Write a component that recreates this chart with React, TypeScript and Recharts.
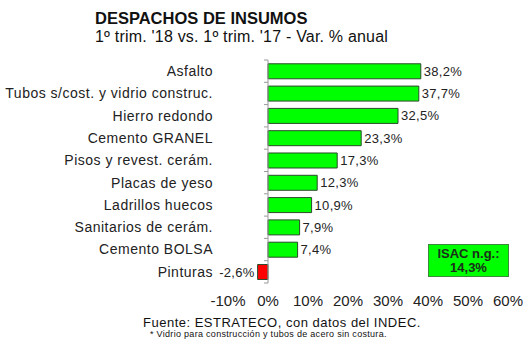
import React from "react";
import { BarChart, Bar, XAxis, YAxis, Cell, LabelList, ReferenceLine } from "recharts";

const categories = [
  "Asfalto",
  "Tubos s/cost. y vidrio construc.",
  "Hierro redondo",
  "Cemento GRANEL",
  "Pisos y revest. cerám.",
  "Placas de yeso",
  "Ladrillos huecos",
  "Sanitarios de cerám.",
  "Cemento BOLSA",
  "Pinturas",
];
const values = [38.2, 37.7, 32.5, 23.3, 17.3, 12.3, 10.9, 7.9, 7.4, -2.6];
const xTicks = [-10, 0, 10, 20, 30, 40, 50, 60];
const isacLabel = "ISAC n.g.:";
const isacValue = "14,3%";

const data = categories.map((name, i) => ({ name, value: values[i] }));

const FONT = "'Liberation Sans', Arial, sans-serif";
const W = 530;
const H = 354;
const M = { top: 60, right: 22, bottom: 41, left: 0 };
const Y_W = 228;
const PLOT_H = H - M.top - M.bottom - 30;
const BAND = PLOT_H / categories.length;

const fmt = (v: number) => v.toFixed(1).replace(".", ",") + "%";

const CatTick = (props: any) => {
  const { y, payload, index } = props;
  return (
    <g>
      <text x={213} y={y} dy="0.35em" textAnchor="end" fontSize={14} letterSpacing={0.5} fontFamily={FONT} fill="#222">
        {payload.value}
      </text>
      <line x1={264} x2={268} y1={y - BAND / 2} y2={y - BAND / 2} stroke="#999" />
      {index === categories.length - 1 ? (
        <line x1={264} x2={268} y1={y + BAND / 2} y2={y + BAND / 2} stroke="#999" />
      ) : null}
    </g>
  );
};

const ValueLabel = (props: any) => {
  const { x, y, width, height, value } = props;
  const left = Math.min(x, x + width);
  const right = Math.max(x, x + width);
  const neg = value < 0;
  return (
    <text
      x={neg ? left - 3 : right + 3}
      y={y + height / 2}
      dy="0.35em"
      textAnchor={neg ? "end" : "start"}
      fontSize={13}
      letterSpacing={0.3}
      fontFamily={FONT}
      fill="#222"
    >
      {fmt(value)}
    </text>
  );
};

export default function App() {
  return (
    <div style={{ position: "absolute", left: 0, top: 0, width: W, height: H, background: "#fff", fontFamily: FONT }}>
      <div style={{ position: "absolute", left: 95, top: 9, fontSize: 16.5, fontWeight: "bold", color: "#111", whiteSpace: "nowrap" }}>
        DESPACHOS DE INSUMOS
      </div>
      <div style={{ position: "absolute", left: 95, top: 28, fontSize: 16, letterSpacing: 0.2, color: "#111", whiteSpace: "nowrap" }}>
        1º trim. '18 vs. 1º trim. '17 - Var. % anual
      </div>
      <BarChart
        width={W}
        height={H}
        data={data}
        layout="vertical"
        margin={M}
        barCategoryGap="17%"
      >
        <XAxis
          type="number"
          domain={[-10, 60]}
          ticks={xTicks}
          axisLine={false}
          tickLine={false}
          tickSize={0}
          tickMargin={12}
          height={30}
          tickFormatter={(v: number) => v + "%"}
          tick={{ fontSize: 15, fontFamily: FONT, fill: "#222" }}
          interval={0}
        />
        <YAxis
          type="category"
          dataKey="name"
          width={Y_W}
          axisLine={false}
          tickLine={false}
          tick={<CatTick />}
          interval={0}
        />
        <ReferenceLine x={0} stroke="#999" strokeWidth={1} />
        <Bar dataKey="value" isAnimationActive={false} stroke="#2b4a2b" strokeWidth={1}>
          {data.map((d, i) => (
            <Cell key={i} fill={d.value < 0 ? "#ff0000" : "#00ff00"} />
          ))}
          <LabelList dataKey="value" content={<ValueLabel />} />
        </Bar>
      </BarChart>
      <div
        style={{
          position: "absolute",
          left: 428,
          top: 244,
          width: 81,
          height: 33,
          background: "#00ff00",
          border: "1px solid #3a8a3a",
          boxSizing: "border-box",
          display: "flex",
          flexDirection: "column",
          alignItems: "center",
          justifyContent: "center",
          fontWeight: "bold",
          fontSize: 13,
          lineHeight: "14px",
          color: "#1b2e1b",
        }}
      >
        <div>{isacLabel}</div>
        <div>{isacValue}</div>
      </div>
      <div style={{ position: "absolute", left: 143, top: 315, fontSize: 13, letterSpacing: 0.5, color: "#111", whiteSpace: "nowrap" }}>
        Fuente: ESTRATECO, con datos del INDEC.
      </div>
      <div style={{ position: "absolute", left: 150, top: 329, fontSize: 9, letterSpacing: 0.3, color: "#111", whiteSpace: "nowrap" }}>
        * Vidrio para construcción y tubos de acero sin costura.
      </div>
    </div>
  );
}
